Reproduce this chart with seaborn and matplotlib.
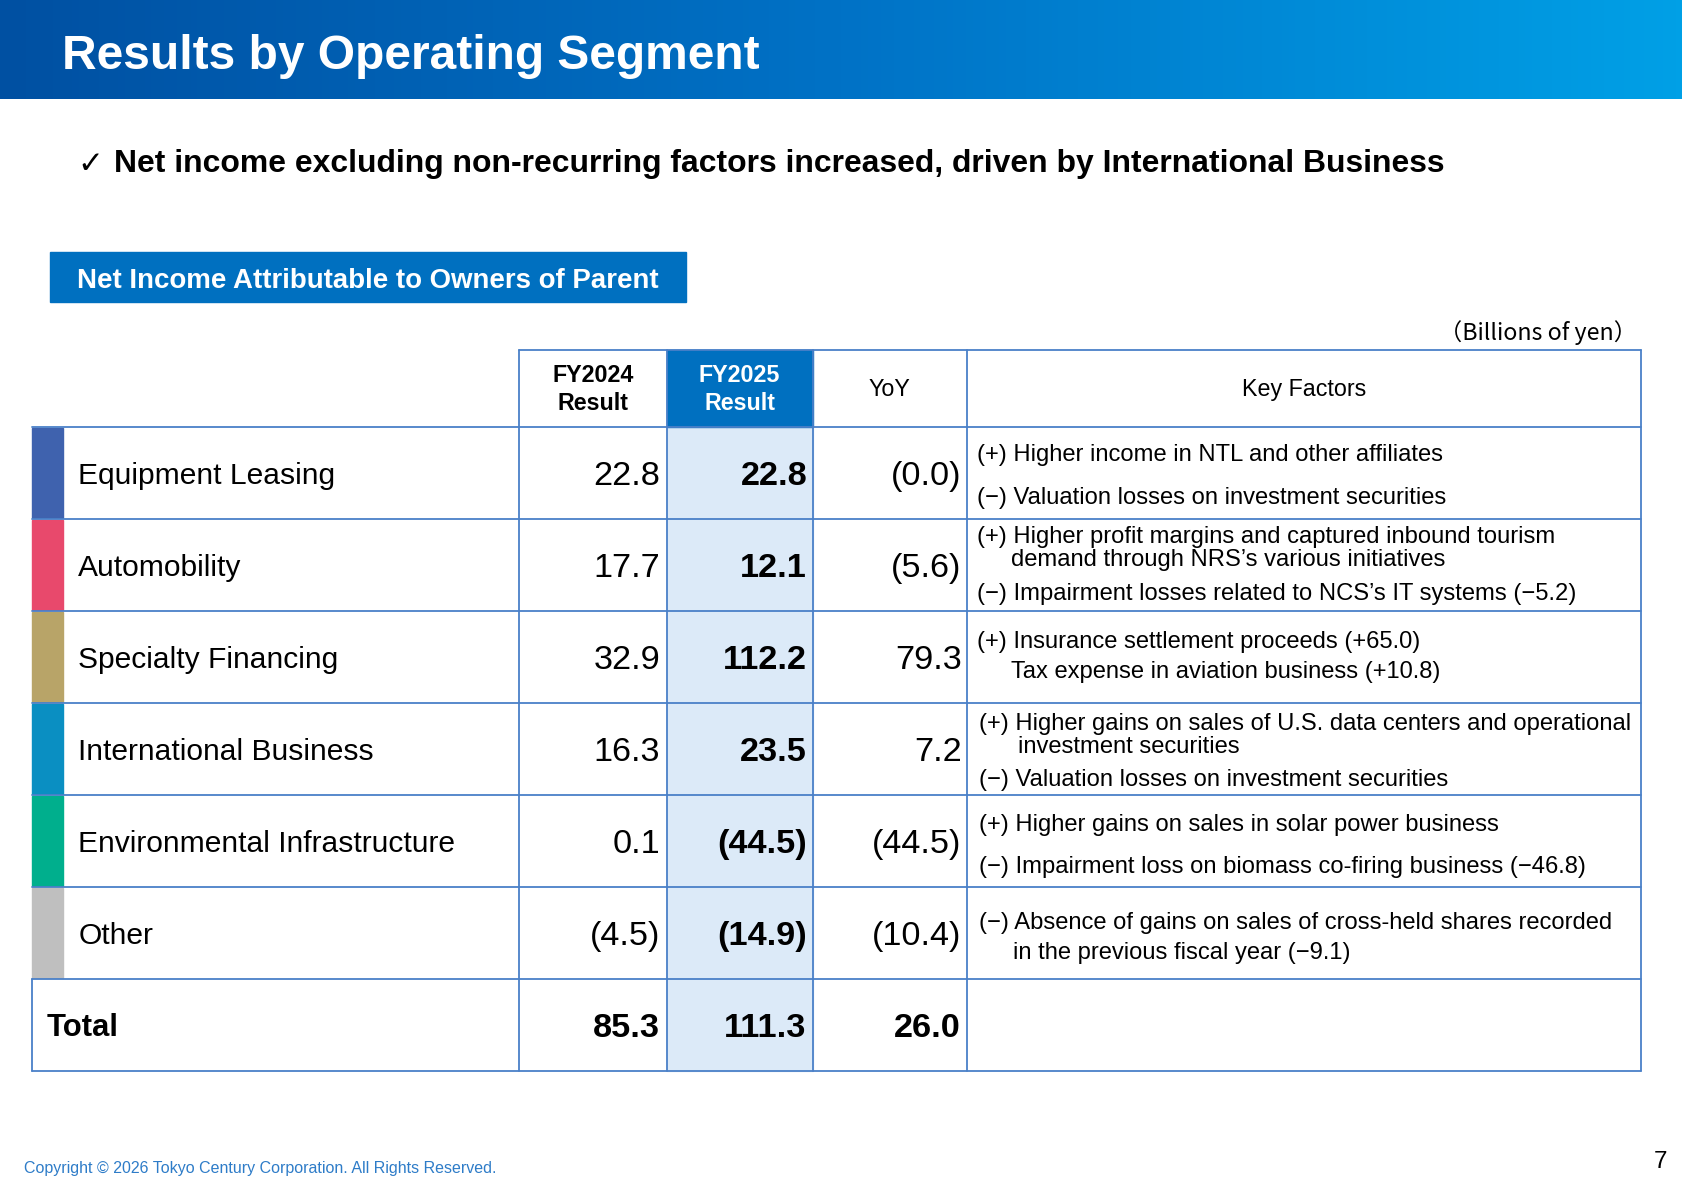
import numpy as np
import matplotlib
matplotlib.use('Agg')
import matplotlib.pyplot as plt
from matplotlib.patches import Rectangle
import seaborn as sns

sns.set_theme(style="white")
plt.rcParams['font.family'] = ['Liberation Sans', 'DejaVu Sans']
plt.rcParams['text.color'] = 'black'

segments = ["Equipment Leasing", "Automobility", "Specialty Financing",
            "International Business", "Environmental Infrastructure", "Other"]
fy2024 = ["22.8", "17.7", "32.9", "16.3", "0.1", "(4.5)"]
fy2025 = ["22.8", "12.1", "112.2", "23.5", "(44.5)", "(14.9)"]
yoy = ["(0.0)", "(5.6)", "79.3", "7.2", "(44.5)", "(10.4)"]
totals = ["85.3", "111.3", "26.0"]
key_factors = [
    ["(+) Higher income in NTL and other affiliates",
     "(\u2212) Valuation losses on investment securities"],
    ["(+) Higher profit margins and captured inbound tourism",
     "demand through NRS\u2019s various initiatives",
     "(\u2212) Impairment losses related to NCS\u2019s IT systems (\u22125.2)"],
    ["(+) Insurance settlement proceeds (+65.0)",
     "Tax expense in aviation business (+10.8)"],
    ["(+) Higher gains on sales of U.S. data centers and operational",
     "investment securities",
     "(\u2212) Valuation losses on investment securities"],
    ["(+) Higher gains on sales in solar power business",
     "(\u2212) Impairment loss on biomass co-firing business (\u221246.8)"],
    ["(\u2212) Absence of gains on sales of cross-held shares recorded",
     "in the previous fiscal year (\u22129.1)"],
]
# layout: (y offset from row top, x indent) per key-factor line
kf_layout = [
    [(25, 0), (65, 0)],
    [(16, 0), (37, 32), (69, 0)],
    [(28, 0), (56, 32)],
    [(18, 2), (40, 38), (71, 2)],
    [(27, 2), (66, 2)],
    [(32, 2), (60, 34)],
]
bar_colors = ["#3F62AE", "#E8496C", "#B8A468", "#0A8FC2", "#00AF8D", "#BFBFBF"]

W, H = 1568, 1108.7
fig = plt.figure(figsize=(16.83, 11.9), dpi=100)
ax = fig.add_axes([0, 0, 1, 1])
ax.set_xlim(0, W)
ax.set_ylim(H, 0)
ax.axis('off')

def pt(px):
    return px * (1683 / W) * 0.72 * 1.03

DY = 3  # baseline nudge

# header gradient
grad = np.linspace(0, 1, 256).reshape(1, -1)
cmap = matplotlib.colors.LinearSegmentedColormap.from_list("hb", ["#0050A2", "#0072C6", "#00A0E6"])
ax.imshow(grad, extent=[0, W, 92, 0], aspect='auto', cmap=cmap, zorder=0)
ax.text(58, 50 + DY, "Results by Operating Segment", color="white", fontsize=pt(43.3),
        fontweight='bold', va='center', ha='left')

ax.text(72, 150 + DY, "\u2713", fontsize=pt(28), va='center', family=['DejaVu Sans'])
ax.text(106, 150 + DY, "Net income excluding non-recurring factors increased, driven by International Business",
        fontsize=pt(28.8), fontweight='bold', va='center')

ax.add_patch(Rectangle((47, 235), 592, 46, color="#0070C0"))
ax.text(343, 259 + DY, "Net Income Attributable to Owners of Parent", color="white",
        fontsize=pt(25), fontweight='bold', va='center', ha='center')
ax.text(1525, 307 + DY, "\uff08Billions of yen\uff09", fontsize=pt(21), va='center', ha='right',
        family=['Noto Sans CJK JP', 'DejaVu Sans'])

# table geometry
cols = [484, 621, 757, 901, 1529]
rows = [398 + 85.7 * i for i in range(8)]
hdr_top = 326
lc = "#4A80C8"

# FY2025 column fill
ax.add_patch(Rectangle((cols[1], rows[0]), cols[2] - cols[1], rows[-1] - rows[0], color="#DCEAF8", zorder=1))
ax.add_patch(Rectangle((cols[1], hdr_top), cols[2] - cols[1], rows[0] - hdr_top, color="#0070C0", zorder=1))

# lines
for y in rows:
    ax.plot([30, cols[-1]], [y, y], color=lc, lw=1.3, zorder=3)
ax.plot([cols[0], cols[-1]], [hdr_top, hdr_top], color=lc, lw=1.3, zorder=3)
for x in cols:
    ax.plot([x, x], [hdr_top, rows[-1]], color=lc, lw=1.3, zorder=3)
ax.plot([30, 30], [rows[-2], rows[-1]], color=lc, lw=1.3, zorder=3)

hy = (hdr_top + rows[0]) / 2 + 1
ax.text((cols[0] + cols[1]) / 2, hy, "FY2024\nResult", ha='center', va='center',
        fontsize=pt(21), fontweight='bold', linespacing=1.3, zorder=4)
ax.text((cols[1] + cols[2]) / 2, hy, "FY2025\nResult", ha='center', va='center', color='white',
        fontsize=pt(21), fontweight='bold', linespacing=1.3, zorder=4)
ax.text((cols[2] + cols[3]) / 2, hy, "YoY", ha='center', va='center', fontsize=pt(21), zorder=4)
ax.text((cols[3] + cols[4]) / 2, hy, "Key Factors", ha='center', va='center', fontsize=pt(21), zorder=4)

num_fs = pt(31)
for i, seg in enumerate(segments):
    top, bot = rows[i], rows[i + 1]
    cy = (top + bot) / 2 + DY
    ax.add_patch(Rectangle((30, top + 1), 29, bot - top - 2, color=bar_colors[i], zorder=2))
    ax.text(73, cy, seg, va='center', fontsize=pt(27.2), zorder=4)
    ax.text(cols[1] - 6, cy, fy2024[i], va='center', ha='right', fontsize=num_fs, zorder=4)
    ax.text(cols[2] - 5, cy, fy2025[i], va='center', ha='right', fontsize=num_fs,
            fontweight='bold', zorder=4)
    ax.text(cols[3] - 5, cy, yoy[i], va='center', ha='right', fontsize=num_fs, zorder=4)
    for line, (dy, dx) in zip(key_factors[i], kf_layout[i]):
        ax.text(cols[3] + 9 + dx, top + dy + 1, line, va='center', fontsize=pt(21.5), zorder=4)

cy = (rows[-2] + rows[-1]) / 2 + DY
ax.text(43, cy, "Total", va='center', fontsize=pt(28), fontweight='bold', zorder=4)
for j, v in enumerate(totals):
    ax.text(cols[j + 1] - 6, cy, v, va='center', ha='right', fontsize=num_fs,
            fontweight='bold', zorder=4)

ax.text(22, 1089, "Copyright \u00a9 2026 Tokyo Century Corporation. All Rights Reserved.",
        color="#2E7CC8", fontsize=pt(14.5), va='center')
ax.text(1553, 1083, "7", fontsize=pt(22), va='center', ha='right')

fig.savefig("out.png", dpi=100)
